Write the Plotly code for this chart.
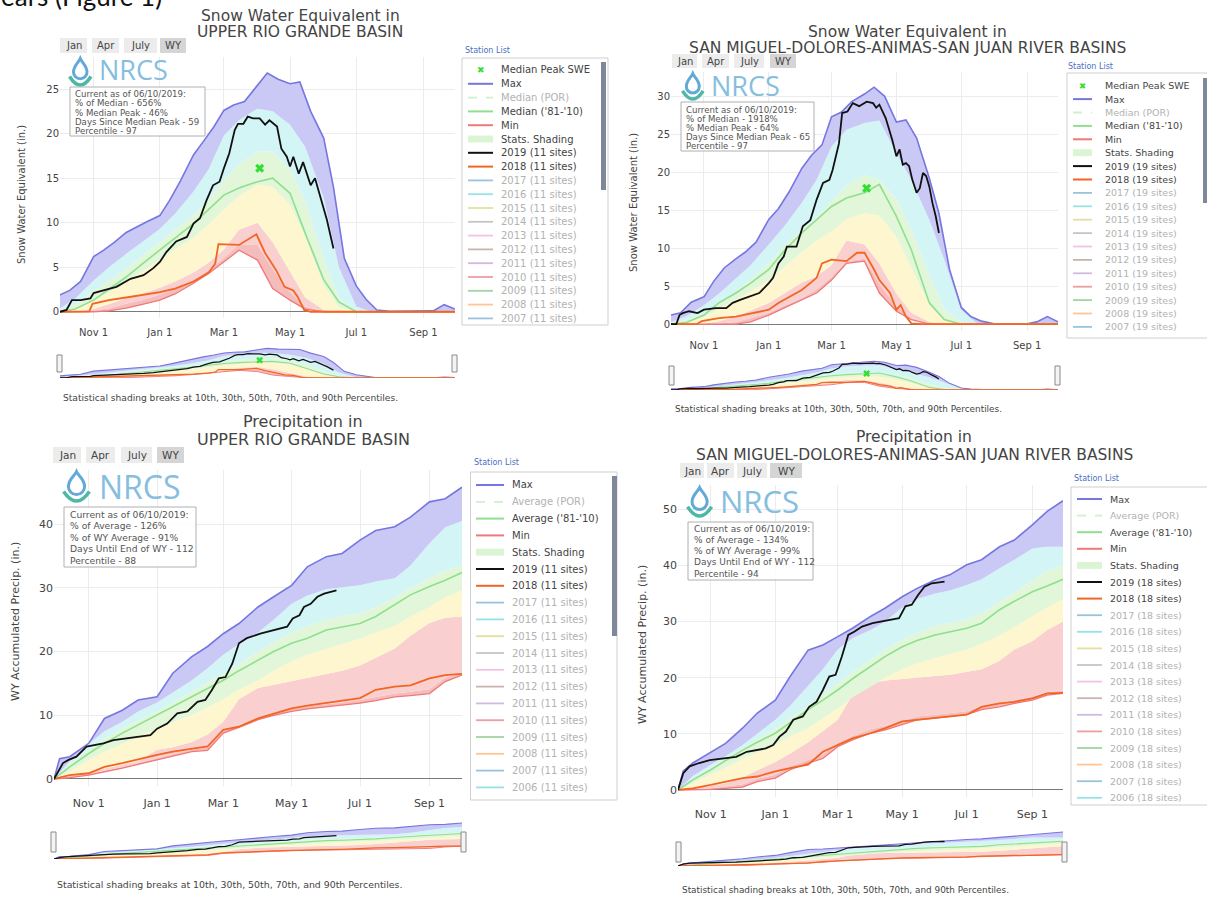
import plotly.graph_objects as go

W, H = 1207, 898
def px(x): return x / W
def py(y): return 1 - y / H

# ---------------- dates ----------------
G = ["2018-10-01","2018-10-15","2018-11-01","2018-11-15","2018-12-01","2018-12-15",
     "2019-01-01","2019-01-15","2019-02-01","2019-02-15","2019-03-01","2019-03-15",
     "2019-04-01","2019-04-15","2019-05-01","2019-05-15","2019-06-01","2019-06-15",
     "2019-07-01","2019-07-15","2019-08-01","2019-08-15","2019-09-01","2019-09-15","2019-09-30"]
TEN = ["2018-10-01","2018-10-10","2018-10-20","2018-11-01","2018-11-10","2018-11-20",
       "2018-12-01","2018-12-10","2018-12-20","2019-01-01","2019-01-10","2019-01-20",
       "2019-02-01","2019-02-10","2019-02-20","2019-03-01","2019-03-10","2019-03-20",
       "2019-04-01","2019-04-10","2019-04-20","2019-05-01","2019-05-10","2019-05-20",
       "2019-06-01","2019-06-10","2019-06-20","2019-07-01","2019-07-10","2019-07-20",
       "2019-08-01","2019-08-10","2019-08-20","2019-09-01","2019-09-10","2019-09-20","2019-09-30"]
G6 = G[:1] + ["2018-10-06"] + G[1:]
TICKV = ["2018-11-01","2019-01-01","2019-03-01","2019-05-01","2019-07-01","2019-09-01"]
TICKT = ["Nov 1","Jan 1","Mar 1","May 1","Jul 1","Sep 1"]

# ---------------- Top-left: SWE Upper Rio Grande ----------------
tl_max = [1.9,2.4,3.4,6.2,6.9,7.8,8.9,9.5,10.1,10.8,12.5,14.7,17.6,19.1,20.8,22.6,23.2,23.6,
          25.5,26.8,26.1,25.6,25.8,22.5,19.5,14.0,6.0,2.9,1.4,0.2,0.05,0.05,0.05,0.1,0.1,0.8,0.3]
tl_p90 = [0.4,1.5,3.5,5.0,6.5,7.8,9.3,11.0,13.5,16.0,19.8,21.5,22.8,22.5,21.0,18.5,12.8,5.0,0.6,0,0,0,0,0,0]
tl_p70 = [0.1,0.8,2.3,3.5,4.8,6.2,7.8,9.2,10.8,12.5,14.8,16.5,18.0,18.0,16.0,12.5,6.0,1.5,0.1,0,0,0,0,0,0]
tl_p50 = [0,0.3,1.2,2.2,3.3,4.5,5.8,7.0,8.3,9.8,11.5,13.0,14.3,14.0,12.0,8.5,3.0,0.5,0,0,0,0,0,0,0]
tl_p30 = [0,0,0.3,0.9,1.5,2.0,2.7,3.4,4.4,5.5,7.0,9.2,10.0,7.8,4.5,1.6,0.2,0,0,0,0,0,0,0,0]
tl_p10 = [0,0,0.1,0.4,0.9,1.3,1.9,2.6,3.6,4.7,6.0,7.6,7.5,4.8,2.2,0.6,0,0,0,0,0,0,0,0,0]
tl_min = [0,0,0,0.1,0.4,0.8,1.3,2.0,3.2,4.3,5.6,6.9,5.8,2.6,1.3,0.3,0,0,0,0,0,0,0,0,0]
tl_med = [0,0.3,1.3,2.5,3.9,5.3,6.9,8.3,9.9,11.5,13.1,13.9,14.6,15.0,13.3,8.8,3.6,1.1,0,0,0,0,0,0,0]
tl_18x = ["2018-10-01","2018-10-28","2018-10-31","2018-11-15","2018-12-01","2018-12-15","2019-01-01",
          "2019-01-15","2019-02-01","2019-02-15","2019-02-21","2019-02-24","2019-03-15","2019-03-31",
          "2019-04-08","2019-04-18","2019-04-26","2019-05-04","2019-05-08","2019-05-14","2019-05-20","2019-09-30"]
tl_18 = [0,0.05,0.9,1.3,1.6,1.9,2.2,2.6,3.4,4.4,5.4,7.6,7.5,8.7,6.6,4.7,2.8,2.4,1.7,0.2,0,0]
tl_19x = ["2018-10-01","2018-10-07","2018-10-12","2018-10-20","2018-10-29","2018-11-01","2018-11-10",
          "2018-11-22","2018-12-05","2018-12-17","2018-12-26","2019-01-01","2019-01-07","2019-01-16",
          "2019-01-26","2019-02-01","2019-02-07","2019-02-13","2019-02-19","2019-02-25","2019-03-01",
          "2019-03-06","2019-03-11","2019-03-14","2019-03-19","2019-03-23","2019-03-28","2019-04-03",
          "2019-04-08","2019-04-12","2019-04-19","2019-04-23","2019-04-28","2019-05-01","2019-05-04",
          "2019-05-09","2019-05-13","2019-05-20","2019-05-24","2019-05-29","2019-06-04","2019-06-10"]
tl_19 = [0,0.2,1.3,1.3,1.5,2.1,2.4,2.8,3.7,4.1,4.9,5.6,6.7,7.9,8.4,9.9,10.5,12.5,14.2,14.6,16.1,
         17.8,20.4,21.1,21.1,21.9,21.7,21.7,21.0,21.5,20.8,18.3,17.4,16.3,17.4,15.5,16.8,14.2,15.0,
         12.9,10.3,7.1]
tl_peak_x = ["2019-04-03"]
tl_peak = [16.1]

# ---------------- Top-right: SWE San Miguel ... ----------------
tr_max = [1.2,1.5,2.9,3.6,5.6,7.4,8.6,9.5,10.8,13.8,15.2,17.4,20.5,22.2,23.6,27.3,27.9,29.3,
          30.3,31.2,30.0,26.6,26.9,24.5,19.2,14.6,7.2,2.2,1.0,0.4,0.05,0.05,0.05,0.05,0.3,1.0,0.3]
tr_p90 = [0.3,1.0,2.5,4.0,6.0,7.8,10.5,12.8,16.0,19.0,23.4,25.6,26.5,26.8,22.5,19.0,13.7,8.5,1.9,0.2,0,0,0,0,0]
tr_p70 = [0.1,0.5,1.5,2.8,4.3,5.8,8.0,10.2,12.5,14.0,16.2,18.3,19.6,19.0,16.5,12.5,6.5,2.0,0.3,0,0,0,0,0,0]
tr_p50 = [0,0.2,0.9,2.0,3.2,4.3,5.8,7.5,9.5,11.0,12.2,13.8,14.6,14.3,11.5,7.5,2.5,0.5,0,0,0,0,0,0,0]
tr_p30 = [0,0,0.1,0.4,1.0,1.8,2.8,4.0,5.5,6.3,7.8,11.0,10.5,8.0,4.0,1.5,0.3,0,0,0,0,0,0,0,0]
tr_p10 = [0,0,0,0.1,0.3,0.8,1.5,2.4,3.4,4.6,6.2,8.3,8.6,5.3,2.4,0.8,0,0,0,0,0,0,0,0,0]
tr_min = [0,0,0,0,0,0.3,1.2,2.1,3.2,4.1,5.8,8.0,8.3,4.1,1.7,0.6,0,0,0,0,0,0,0,0,0]
tr_med = [0,0.2,1.2,2.8,4.1,5.4,7.2,9.6,12.0,13.7,15.5,16.6,17.3,18.4,14.2,9.8,2.8,0.6,0,0,0,0,0,0,0]
tr_18x = ["2018-10-01","2018-10-25","2018-10-30","2018-11-15","2018-12-01","2018-12-15","2019-01-01",
          "2019-01-10","2019-01-15","2019-02-01","2019-02-15","2019-02-20","2019-03-01","2019-03-15",
          "2019-03-25","2019-04-01","2019-04-10","2019-04-15","2019-04-25","2019-05-01","2019-05-05",
          "2019-05-10","2019-05-15","2019-05-25","2019-09-30"]
tr_18 = [0,0,0.4,0.8,1.0,1.45,1.9,2.8,3.2,4.5,6.1,8.0,8.5,8.3,9.4,9.4,7.2,5.8,4.1,1.9,2.5,1.0,0.1,0,0]
tr_19x = ["2018-10-01","2018-10-06","2018-10-09","2018-10-12","2018-10-18","2018-10-26","2018-11-01",
          "2018-11-12","2018-11-22","2018-11-28","2018-12-05","2018-12-14","2018-12-23","2019-01-01",
          "2019-01-05","2019-01-10","2019-01-15","2019-01-18","2019-01-27","2019-02-02","2019-02-09",
          "2019-02-15","2019-02-21","2019-02-27","2019-03-02","2019-03-08","2019-03-11","2019-03-16",
          "2019-03-21","2019-03-27","2019-04-03","2019-04-09","2019-04-12","2019-04-15","2019-04-21",
          "2019-04-27","2019-05-01","2019-05-04","2019-05-07","2019-05-10","2019-05-13","2019-05-16",
          "2019-05-20","2019-05-23","2019-05-26","2019-05-29","2019-06-01","2019-06-04","2019-06-07","2019-06-10"]
tr_19 = [0,0,1.2,1.45,1.7,1.45,1.9,2.1,2.1,2.8,3.2,3.6,4.1,5.4,6.1,8.0,8.9,10.2,10.2,12.9,13.7,
         16.4,18.6,19.0,20.3,23.8,27.8,28.0,29.1,28.7,29.3,29.1,28.5,28.9,27.1,24.3,22.1,23.0,21.0,
         21.2,20.8,19.0,17.3,17.9,19.9,19.5,18.1,15.9,14.2,12.0]
tr_peak_x = ["2019-04-03"]
tr_peak = [17.9]

# ---------------- Bottom-left: Precip Upper Rio Grande ----------------
bl_max = [0,3.2,3.5,5.6,9.5,10.8,12.4,12.9,16.6,19.2,20.8,22.8,24.4,27.0,28.6,30.4,33.3,34.9,
          35.4,37.5,39.0,39.6,41.1,43.5,44.0,45.8]
bl_p90 = [0,2.8,5.5,7.5,9.0,10.6,12.0,13.6,15.5,17.4,19.5,21.2,23.0,25.0,27.5,28.8,29.8,30.1,30.4,31.0,31.5,33.5,37.0,39.5,40.5]
bl_p70 = [0,2.3,4.6,6.3,7.9,9.2,10.6,12.0,13.6,15.0,16.5,18.0,20.0,21.5,23.0,24.0,25.0,25.5,26.0,27.0,28.5,30.0,31.5,32.8,33.6]
bl_avg = [0,1.9,4.0,5.6,7.2,8.5,10.0,11.4,12.9,14.2,15.5,17.0,18.7,20.0,21.3,22.1,23.4,23.9,24.4,25.5,27.3,28.9,30.2,31.2,32.4]
bl_p50 = [0,1.2,3.0,4.3,5.5,6.7,7.8,8.9,10.0,11.2,12.5,14.0,15.5,17.0,18.5,19.5,20.5,21.2,22.0,23.0,24.0,25.5,27.0,28.5,29.6]
bl_p30 = [0,0.4,1.0,1.6,2.2,2.8,4.6,5.0,5.8,7.0,9.0,12.5,14.3,14.8,15.3,15.8,16.5,17.0,17.8,19.0,20.5,22.5,24.5,25.3,25.5]
bl_p10 = [0,0.3,0.8,1.3,1.9,2.5,3.3,3.9,4.6,5.0,7.5,8.5,9.7,10.4,11.0,11.4,11.7,12.0,12.4,12.9,13.4,13.7,14.1,15.9,16.6]
bl_min = [0,0.2,0.6,1.1,1.7,2.3,3.0,3.6,4.3,4.5,7.2,8.1,9.3,10.0,10.6,11.0,11.3,11.6,11.9,12.3,12.9,13.1,13.4,15.3,16.3]
bl_18 = [0,0.6,0.9,1.9,2.5,3.1,3.8,4.3,4.8,5.1,7.7,8.2,9.5,10.3,11.1,11.5,11.9,12.3,12.7,14.0,14.5,14.7,15.8,16.3,16.5]
bl_19x = ["2018-10-01","2018-10-09","2018-10-14","2018-10-21","2018-10-30","2018-11-05","2018-11-14",
          "2018-11-23","2018-12-05","2018-12-17","2018-12-26","2019-01-01","2019-01-10","2019-01-19",
          "2019-01-28","2019-02-06","2019-02-13","2019-02-19","2019-02-25","2019-03-03","2019-03-09",
          "2019-03-15","2019-03-22","2019-04-03","2019-04-15","2019-04-27","2019-05-02","2019-05-08",
          "2019-05-12","2019-05-18","2019-05-24","2019-05-30","2019-06-10"]
bl_19 = [0,2.5,3.0,3.5,5.1,5.3,5.6,6.1,6.4,6.6,6.9,7.9,8.7,10.3,10.6,12.1,12.4,14.0,15.8,16.0,18.1,
         21.3,22.1,22.8,23.4,23.9,25.2,25.7,27.0,27.5,28.6,29.1,29.6]

# ---------------- Bottom-right: Precip San Miguel ... ----------------
br_max = [0,3.4,4.8,6.8,8.3,11.0,13.7,16.0,20.2,24.9,25.8,27.3,28.8,30.9,32.4,34.4,35.9,37.4,
          38.3,40.1,41.0,43.3,44.5,47.2,49.6,51.5]
br_p90 = [0,2.5,4.5,6.0,8.0,10.0,12.5,15.0,18.5,21.5,25.0,27.0,28.5,30.0,32.5,34.0,35.0,35.5,36.5,37.5,39.5,41.0,43.0,43.3,43.3]
br_p70 = [0,2.1,4.0,5.6,7.4,9.0,10.8,12.8,15.0,17.0,19.0,21.0,23.2,25.0,26.8,28.0,29.2,29.8,30.4,31.4,33.5,35.2,37.2,39.0,40.0]
br_avg = [0,1.8,3.6,5.3,7.1,8.5,10.1,12.0,14.3,16.0,17.8,19.8,22.0,23.8,25.5,26.6,27.6,28.2,28.8,29.7,32.1,33.6,35.3,36.3,37.5]
br_p50 = [0,1.2,2.8,4.0,5.5,6.7,8.0,9.5,11.0,12.8,14.5,16.5,18.5,20.0,21.5,22.5,23.5,24.2,25.0,26.0,27.5,29.0,31.0,32.5,34.0]
br_p30 = [0,0.3,0.7,1.2,2.2,3.5,5.0,6.5,8.5,10.5,12.5,17.0,19.0,19.5,19.8,20.0,20.3,20.5,21.0,21.5,23.0,25.0,26.5,28.5,30.0]
br_p10 = [0,0.1,0.3,0.6,1.0,2.0,2.7,4.2,5.4,6.3,8.4,9.6,10.8,11.4,12.3,13.1,13.4,13.7,14.0,14.9,15.4,16.0,16.6,17.4,17.7]
br_min = [0,0,0.1,0.3,0.5,1.5,2.1,3.6,4.8,5.6,7.7,8.9,10.1,10.7,11.6,12.5,12.8,13.1,13.4,14.3,14.8,15.4,16.0,16.9,17.2]
br_18 = [0,0.3,0.9,1.5,2.1,2.4,3.3,3.9,4.5,6.8,8.0,9.2,10.1,11.0,12.2,12.5,12.8,13.1,13.4,14.8,15.4,15.7,16.3,17.2,17.3]
br_19x = ["2018-10-01","2018-10-06","2018-10-12","2018-10-21","2018-10-31","2018-11-12","2018-11-25",
          "2018-12-05","2018-12-14","2018-12-23","2018-12-30","2019-01-05","2019-01-11","2019-01-18",
          "2019-01-27","2019-02-02","2019-02-09","2019-02-15","2019-02-21","2019-02-27","2019-03-05",
          "2019-03-11","2019-03-17","2019-03-24","2019-04-03","2019-04-12","2019-04-22","2019-04-28",
          "2019-05-04","2019-05-10","2019-05-16","2019-05-22","2019-05-29","2019-06-10"]
br_19 = [0,3.0,4.2,4.8,5.3,5.6,5.9,6.8,7.1,7.4,8.0,9.5,10.4,12.5,13.1,14.8,15.7,17.8,20.2,20.5,23.8,
         27.6,28.2,29.1,29.7,30.0,30.3,30.6,32.7,33.0,34.7,36.2,36.8,37.1]

# ---------------- text content ----------------
swe_info = {"tl": ["Current as of 06/10/2019:", "% of Median - 656%", "% Median Peak - 46%",
                   "Days Since Median Peak - 59", "Percentile - 97"],
            "tr": ["Current as of 06/10/2019:", "% of Median - 1918%", "% Median Peak - 64%",
                   "Days Since Median Peak - 65", "Percentile - 97"]}
pcp_info = {"bl": ["Current as of 06/10/2019:", "% of Average - 126%", "% of WY Average - 91%",
                   "Days Until End of WY - 112", "Percentile - 88"],
            "br": ["Current as of 06/10/2019:", "% of Average - 134%", "% of WY Average - 99%",
                   "Days Until End of WY - 112", "Percentile - 94"]}
YEAR_COL = [(2017, "#1f77b4"), (2016, "#17becf"), (2015, "#bcbd22"), (2014, "#7f7f7f"),
            (2013, "#e377c2"), (2012, "#8c564b"), (2011, "#9467bd"), (2010, "#d62728"),
            (2009, "#2ca02c"), (2008, "#ff7f0e"), (2007, "#1f77b4"), (2006, "#17becf")]

# ---------------- styles ----------------
FILLS = ["#f5bcbc", "#f9cfcf", "#fdf6cf", "#e2f6d9", "#d3f5f6", "#cac8f5"]
C_MAX, C_MED, C_MIN, C_18, C_19 = "#7676e0", "#8ee08e", "#f07878", "#f26522", "#111111"
C_PEAK = "#33dd33"
FONT = "DejaVu Sans"

def hex_rgba(h, a):
    h = h.lstrip("#")
    return f"rgba({int(h[0:2],16)},{int(h[2:4],16)},{int(h[4:6],16)},{a})"

panels = [
    dict(kind="swe", d=dict(maxx=TEN, mx=tl_max, p90=tl_p90, p70=tl_p70, p50=tl_p50, p30=tl_p30,
                            p10=tl_p10, mn=tl_min, med=tl_med, x18=tl_18x, y18=tl_18, x19=tl_19x,
                            y19=tl_19, pkx=tl_peak_x, pk=tl_peak),
         box=(60, 57, 455, 318), yr=[-0.7, 28.6], yt=[0, 5, 10, 15, 20, 25], tf=10, stand=7,
         mini=(60, 347, 455, 378), myr=[0, 28.0],
         title=[("Snow Water Equivalent in", 300, 16), ("UPPER RIO GRANDE BASIN", 300, 32)], tsz=15.5,
         buttons=(38, 53, [(60, 87), (92, 119), (124, 157), (160, 186)]), bsz=10,
         logo=(69, 58, 94, 86), nrcs=(97, 70, 27),
         info=(70, 87, 205, 136), infox=73, infoy=[94, 103.2, 112.5, 121.8, 131], infosz=8.6, infotxt=swe_info["tl"],
         ytitle=("Snow Water Equivalent (in.)", 21, 195), ytsz=10,
         caption=(61, 398, 9.1),
         handles=[(57, 355, 62, 372), (452, 355, 457, 372)],
         leg=dict(box=(462, 58, 608, 325), first=70, step=13.8, lx=(468, 493), tx=499, sz=10,
                  station=(463, 51), scroll=(601, 62, 606, 190)), sites=11),
    dict(kind="swe", d=dict(maxx=TEN, mx=tr_max, p90=tr_p90, p70=tr_p70, p50=tr_p50, p30=tr_p30,
                            p10=tr_p10, mn=tr_min, med=tr_med, x18=tr_18x, y18=tr_18, x19=tr_19x,
                            y19=tr_19, pkx=tr_peak_x, pk=tr_peak),
         box=(671, 72, 1058, 331), yr=[-0.9, 33.2], yt=[0, 5, 10, 15, 20, 25, 30], tf=10, stand=7,
         mini=(671, 360, 1058, 390), myr=[0, 32.5],
         title=[("Snow Water Equivalent in", 908, 32),
                ("SAN MIGUEL-DOLORES-ANIMAS-SAN JUAN RIVER BASINS", 908, 48)], tsz=15.5,
         buttons=(54, 68, [(672, 697), (702, 729), (734, 764), (770, 796)]), bsz=10,
         logo=(682, 73, 706, 100), nrcs=(709, 85.5, 27),
         info=(681, 102, 814, 151), infox=683.5, infoy=[109.5, 118.6, 127.8, 137, 146], infosz=8.6, infotxt=swe_info["tr"],
         ytitle=("Snow Water Equivalent (in.)", 634, 203), ytsz=10,
         caption=(673, 409, 8.9),
         handles=[(669, 366, 674, 385), (1055, 366, 1060, 385)],
         leg=dict(box=(1067, 73, 1215, 338), first=85.7, step=13.4, lx=(1073, 1092), tx=1103, sz=9.5,
                  station=(1066, 66), scroll=(1203, 78, 1207, 203)), sites=19),
    dict(kind="pcp", d=dict(maxx=G6, mx=bl_max, p90=bl_p90, p70=bl_p70, p50=bl_p50, p30=bl_p30,
                            p10=bl_p10, mn=bl_min, med=bl_avg, x18=G, y18=bl_18, x19=bl_19x,
                            y19=bl_19, pkx=None, pk=None),
         box=(54, 470, 462, 786), yr=[-1.1, 48.5], yt=[0, 10, 20, 30, 40], tf=11, stand=9,
         mini=(54, 822, 462, 859), myr=[0, 47.0],
         title=[("Precipitation in", 303, 421), ("UPPER RIO GRANDE BASIN", 303, 440)], tsz=16,
         buttons=(447, 463, [(53, 81), (86, 115), (121, 152), (157, 184)]), bsz=10.5,
         logo=(63, 471, 93, 502), nrcs=(97, 486, 32),
         info=(64, 507, 196, 567), infox=68, infoy=[514, 525.5, 537, 548.5, 560], infosz=9.2, infotxt=pcp_info["bl"],
         ytitle=("WY Accumulated Precip. (in.)", 15, 622), ytsz=11,
         caption=(55, 884, 9.4),
         handles=[(51, 832, 56, 852), (461, 832, 466, 852)],
         leg=dict(box=(470.5, 472, 617, 800), first=485, step=16.8, lx=(476, 504), tx=510, sz=10,
                  station=(472, 463), scroll=(612, 476, 617, 636)), sites=11),
    dict(kind="pcp", d=dict(maxx=G6, mx=br_max, p90=br_p90, p70=br_p70, p50=br_p50, p30=br_p30,
                            p10=br_p10, mn=br_min, med=br_avg, x18=G, y18=br_18, x19=br_19x,
                            y19=br_19, pkx=None, pk=None),
         box=(678, 485, 1063, 797), yr=[-1.25, 54.3], yt=[0, 10, 20, 30, 40, 50], tf=11, stand=9,
         mini=(678, 831, 1063, 866), myr=[0, 53.0],
         title=[("Precipitation in", 914, 437),
                ("SAN MIGUEL-DOLORES-ANIMAS-SAN JUAN RIVER BASINS", 914, 455)], tsz=15.5,
         buttons=(463, 478, [(680, 704), (707, 734), (737, 767), (770, 802)]), bsz=10.5,
         logo=(687, 487, 715, 517), nrcs=(718, 501, 31),
         info=(688, 522, 813, 580), infox=692, infoy=[529, 540, 551, 562, 573.5], infosz=9, infotxt=pcp_info["br"],
         ytitle=("WY Accumulated Precip. (in.)", 642, 645), ytsz=11,
         caption=(680, 890, 8.9),
         handles=[(676, 842, 681, 862), (1062, 842, 1067, 862)],
         leg=dict(box=(1071, 487, 1215, 805), first=499, step=16.6, lx=(1077, 1102), tx=1108, sz=9.5,
                  station=(1072, 479), scroll=None), sites=18),
]

fig = go.Figure()
layout = {}
shapes, annotations = [], []

def axn(n, l): return f"{l}axis" if n == 1 else f"{l}axis{n}"
def axr(n, l): return l if n == 1 else f"{l}{n}"

def rect(x0, y0, x1, y1, fill="rgba(0,0,0,0)", line=None, lw=1):
    shapes.append(dict(type="rect", xref="paper", yref="paper", x0=px(x0), x1=px(x1),
                       y0=py(y1), y1=py(y0), fillcolor=fill, layer="above",
                       line=dict(color=line or "rgba(0,0,0,0)", width=lw if line else 0)))

def seg(x0, y0, x1, y1, color, width=1.5, dash="solid"):
    shapes.append(dict(type="line", xref="paper", yref="paper", x0=px(x0), x1=px(x1),
                       y0=py(y0), y1=py(y1), layer="above",
                       line=dict(color=color, width=width, dash=dash)))

def text(x, y, s, size=10, color="#444", xanchor="left", family=FONT, angle=0, yanchor="middle"):
    annotations.append(dict(xref="paper", yref="paper", x=px(x), y=py(y), text=s, showarrow=False,
                            xanchor=xanchor, yanchor=yanchor, textangle=angle,
                            font=dict(size=size, color=color, family=family)))

def logo(x0, y0, x1, y1):
    w, h = x1 - x0, y1 - y0
    cx, r = x0 + w * 0.45, w * 0.27
    cy, top = y0 + h * 0.5, y0 + h * 0.02
    k = 0.552 * r
    P = lambda x, y: f"{px(x):.5f},{py(y):.5f}"
    path = (f"M {P(cx, top)} C {P(cx + r*0.25, top + h*0.14)} {P(cx + r, cy - r*0.9)} {P(cx + r, cy)} "
            f"C {P(cx + r, cy + k)} {P(cx + k, cy + r)} {P(cx, cy + r)} "
            f"C {P(cx - k, cy + r)} {P(cx - r, cy + k)} {P(cx - r, cy)} "
            f"C {P(cx - r, cy - r*0.9)} {P(cx - r*0.25, top + h*0.14)} {P(cx, top)} Z")
    shapes.append(dict(type="path", xref="paper", yref="paper", path=path, layer="above",
                       fillcolor="rgba(0,0,0,0)", line=dict(color="#62a9d8", width=3)))
    ax0, ax1, ay = x0 + w*0.02, x0 + w*0.88, y0 + h*0.66
    ctrl = 2 * (y1 - 1) - ay
    path2 = f"M {P(ax0, ay)} Q {P((ax0 + ax1)/2, ctrl)} {P(ax1, ay)}"
    shapes.append(dict(type="path", xref="paper", yref="paper", path=path2, layer="above",
                       line=dict(color="#50b7a6", width=3.5)))

def add_series(d, n, mini):
    xr, yr = axr(n, "x"), axr(n, "y")
    base = dict(xaxis=xr, yaxis=yr, showlegend=False, hoverinfo="skip", mode="lines")
    fig.add_trace(go.Scatter(x=G, y=d["mn"], line=dict(width=0), **base))
    for vals, col in zip([d["p10"], d["p30"], d["p50"], d["p70"], d["p90"]], FILLS[:5]):
        fig.add_trace(go.Scatter(x=G, y=vals, line=dict(width=0), fill="tonexty", fillcolor=col, **base))
    fig.add_trace(go.Scatter(x=d["maxx"], y=d["mx"], line=dict(width=0), fill="tonexty",
                             fillcolor=FILLS[5], **base))
    s = 0.7 if mini else 1.0
    fig.add_trace(go.Scatter(x=d["maxx"], y=d["mx"], line=dict(color=C_MAX, width=1.6 * s), **base))
    fig.add_trace(go.Scatter(x=G, y=d["med"], line=dict(color=C_MED, width=1.6 * s), **base))
    fig.add_trace(go.Scatter(x=G, y=d["mn"], line=dict(color=C_MIN, width=1.3 * s), **base))
    fig.add_trace(go.Scatter(x=d["x18"], y=d["y18"], line=dict(color=C_18, width=1.8 * s), **base))
    fig.add_trace(go.Scatter(x=d["x19"], y=d["y19"], line=dict(color=C_19, width=1.8 * s), **base))
    if d["pkx"]:
        b2 = dict(base); b2["mode"] = "markers"
        fig.add_trace(go.Scatter(x=d["pkx"], y=d["pk"], marker=dict(symbol="x", size=8 if not mini else 6,
                                 color=C_PEAK, line=dict(width=0)), **b2))

for k, p in enumerate(panels):
    nm, nn = 2 * k + 1, 2 * k + 2
    x0, y0, x1, y1 = p["box"]
    layout[axn(nm, "x")] = dict(domain=[px(x0), px(x1)], anchor=axr(nm, "y"), type="date",
                                range=["2018-10-01", "2019-09-30"], tickmode="array",
                                tickvals=TICKV, ticktext=TICKT, showgrid=True, gridcolor="#ececec",
                                zeroline=False, showline=False, ticks="", fixedrange=True,
                                ticklabelstandoff=p["stand"],
                                tickfont=dict(size=p["tf"], color="#444", family=FONT))
    layout[axn(nm, "y")] = dict(domain=[py(y1), py(y0)], anchor=axr(nm, "x"), range=p["yr"],
                                tickmode="array", tickvals=p["yt"], showgrid=True, gridcolor="#ececec",
                                zeroline=True, zerolinecolor="#7a7a7a", zerolinewidth=1, showline=False,
                                ticks="", fixedrange=True,
                                tickfont=dict(size=p["tf"], color="#444", family=FONT))
    mx0, my0, mx1, my1 = p["mini"]
    layout[axn(nn, "x")] = dict(domain=[px(mx0), px(mx1)], anchor=axr(nn, "y"), type="date",
                                range=["2018-10-01", "2019-09-30"], visible=False, fixedrange=True)
    layout[axn(nn, "y")] = dict(domain=[py(my1), py(my0)], anchor=axr(nn, "x"), range=p["myr"],
                                visible=False, fixedrange=True)
    add_series(p["d"], nm, False)
    add_series(p["d"], nn, True)

    for s, tx, ty in p["title"]:
        text(tx, ty, s, size=p["tsz"], color="#444", xanchor="center")
    by0, by1, bl = p["buttons"]
    for (bx0, bx1), lab in zip(bl, ["Jan", "Apr", "July", "WY"]):
        rect(bx0, by0, bx1, by1, fill="#d5d5d5" if lab == "WY" else "#ececec")
        text((bx0 + bx1) / 2, (by0 + by1) / 2, lab, size=p["bsz"], color="#444", xanchor="center")
    logo(*p["logo"])
    nx, ny, nsz = p["nrcs"]
    text(nx, ny, "NRCS", size=nsz, color="#86bedf", family="Liberation Sans Narrow, Open Sans")
    ix0, iy0, ix1, iy1 = p["info"]
    rect(ix0, iy0, ix1, iy1, fill="rgba(255,255,255,0.85)", line="#b0b0b0", lw=1)
    for s, yy in zip(p["infotxt"], p["infoy"]):
        text(p["infox"], yy, s, size=p["infosz"], color="#555")
    s, tx, ty = p["ytitle"]
    text(tx, ty, s, size=p["ytsz"], color="#444", xanchor="center", angle=-90)
    cx_, cy_, csz = p["caption"]
    text(cx_, cy_, "Statistical shading breaks at 10th, 30th, 50th, 70th, and 90th Percentiles.",
         size=csz, color="#444")
    for hx0, hy0, hx1, hy1 in p["handles"]:
        rect(hx0, hy0, hx1, hy1, fill="#f4f4f4", line="#8a8a8a", lw=1)
    L = p["leg"]
    lbx0, lby0, lbx1, lby1 = L["box"]
    rect(lbx0, lby0, lbx1, lby1, fill="white", line="#cfcfcf", lw=1)
    sx, sy = L["station"]
    text(sx, sy, "Station List", size=8, color="#4a6fc2")
    if L["scroll"]:
        rect(*L["scroll"], fill="#7f8898")
    n = p["sites"]
    if p["kind"] == "swe":
        entries = [("x", "Median Peak SWE", C_PEAK, True), ("line", "Max", C_MAX, True),
                   ("dash", "Median (POR)", C_MED, False), ("line", "Median ('81-'10)", C_MED, True),
                   ("line", "Min", C_MIN, True), ("band", "Stats. Shading", "#dbf5d4", True)]
        years = YEAR_COL[:11]
    else:
        entries = [("line", "Max", C_MAX, True), ("dash", "Average (POR)", C_MED, False),
                   ("line", "Average ('81-'10)", C_MED, True), ("line", "Min", C_MIN, True),
                   ("band", "Stats. Shading", "#dbf5d4", True)]
        years = YEAR_COL
    entries += [("line", f"2019 ({n} sites)", C_19, True), ("line", f"2018 ({n} sites)", C_18, True)]
    entries += [("line", f"{yv} ({n} sites)", col, False) for yv, col in years]
    lx0, lx1 = L["lx"]
    for i, (kind, lab, col, active) in enumerate(entries):
        ey = L["first"] + i * L["step"]
        c = col if active else hex_rgba(col, 0.45)
        if kind == "x":
            text((lx0 + lx1) / 2, ey, "\u2716", size=L["sz"] - 1, color=col, xanchor="center")
        elif kind == "band":
            seg(lx0, ey, lx1, ey, col, width=7)
        elif kind == "dash":
            seg(lx0, ey, lx1, ey, hex_rgba(col, 0.45), width=1.8, dash="dash")
        else:
            seg(lx0, ey, lx1, ey, c, width=2 if active else 1.8)
        text(L["tx"], ey, lab, size=L["sz"], color="#444" if active else "#b2b2b2")

# cut-off document text at the very top-left
text(-1, 14, "ears (Figure 1)", size=26, color="#111", family="Lato, Liberation Sans", yanchor="bottom")

fig.update_layout(**layout)
fig.update_layout(width=W, height=H, margin=dict(l=0, r=0, t=0, b=0), autosize=False,
                  paper_bgcolor="white", plot_bgcolor="white", showlegend=False,
                  shapes=shapes, annotations=annotations, font=dict(family=FONT))
fig.write_html("out.html", config={"displayModeBar": False},
               post_script="document.body.style.margin='0';document.body.style.overflow='hidden';")
